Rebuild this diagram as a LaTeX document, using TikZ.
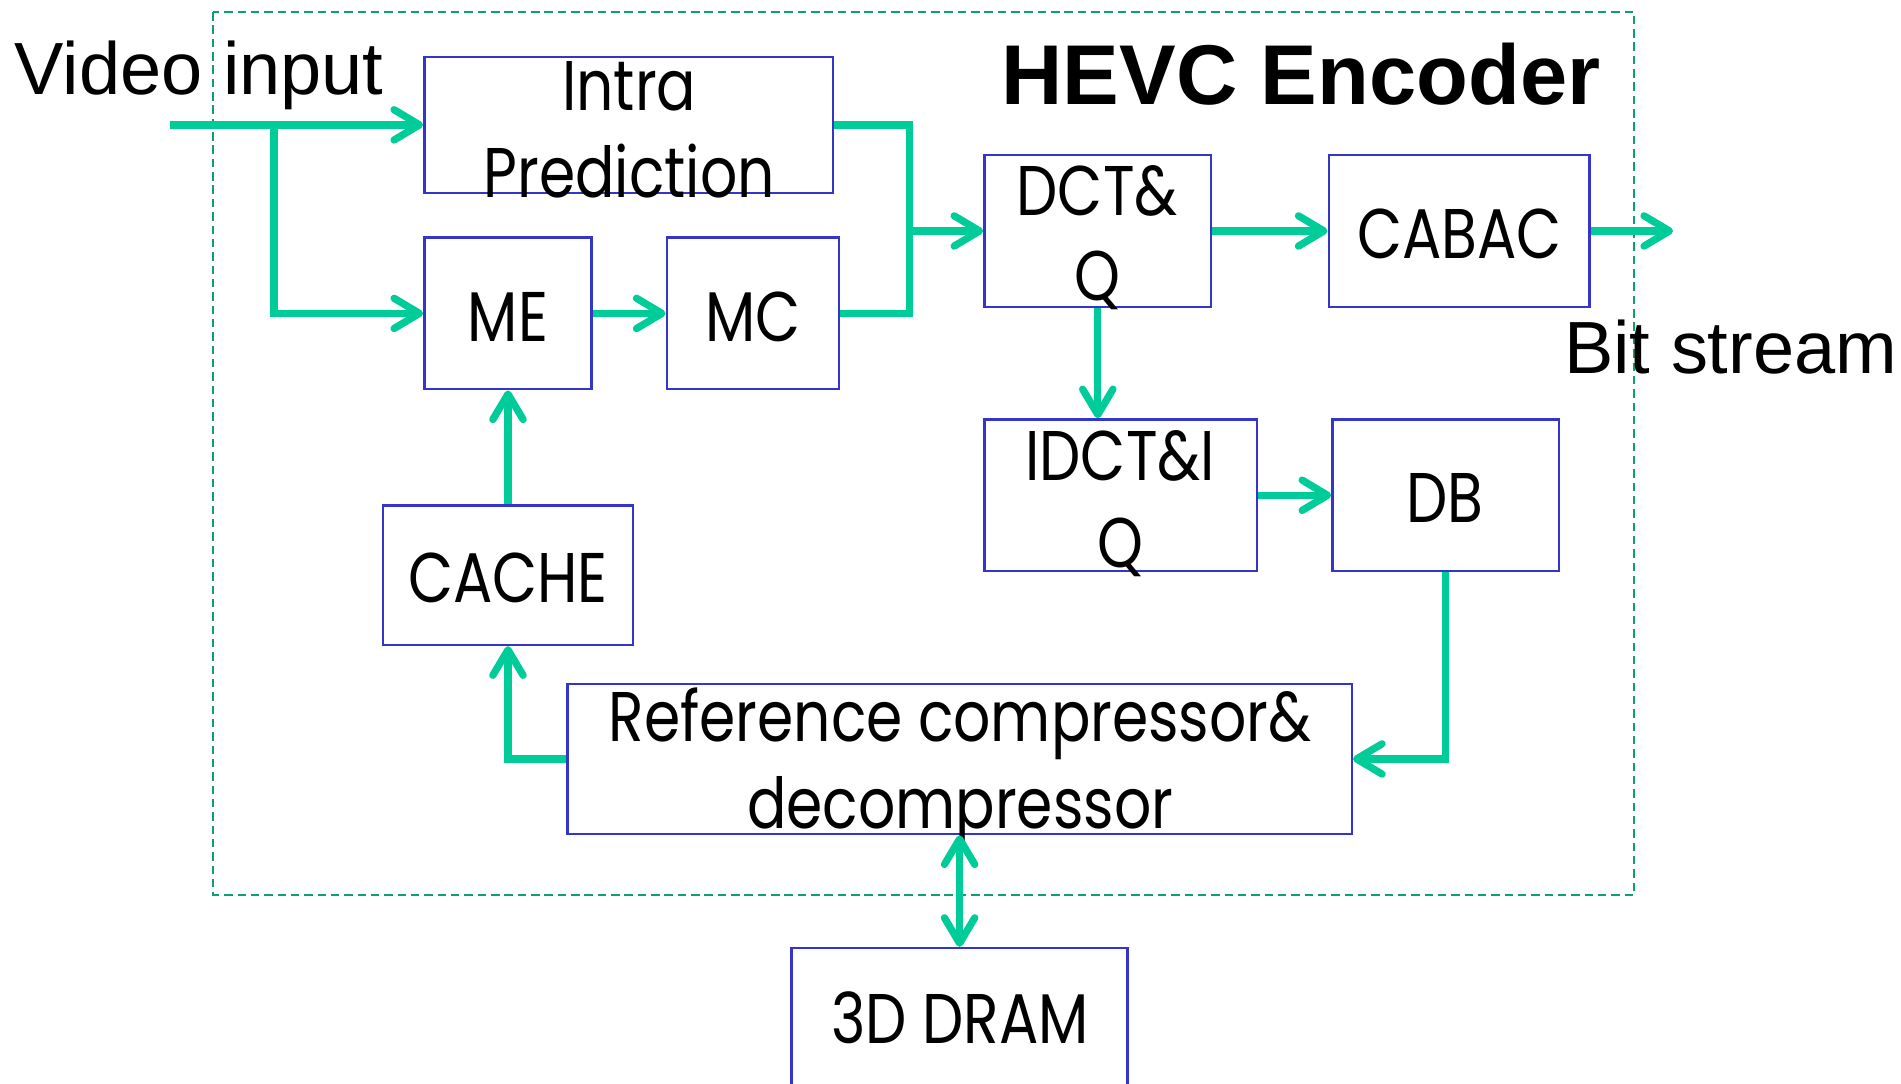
\documentclass[tikz,border=0pt]{standalone}
\usepackage{fontspec}
\setmainfont{Liberation Sans}
\newfontfamily\blockfont[FakeStretch=0.83]{Poppins}
\usetikzlibrary{arrows.meta}
\definecolor{agreen}{HTML}{00CC99}
\definecolor{bblue}{HTML}{3535CC}
\definecolor{dgreen}{HTML}{109E78}
\tikzset{
  blk/.style={draw=bblue, line width=2pt, rectangle, inner sep=0pt},
  btxt/.style={font=\blockfont\fontsize{58}{71}\selectfont, anchor=base, inner sep=0pt},
  conn/.style={draw=agreen, line width=6pt},
  barb/.style={},
  arr/.style={conn, -{Straight Barb[length=21pt, width=25pt, line cap=round, line join=round]}},
  darr/.style={conn, {Straight Barb[length=21pt, width=25pt, line cap=round, line join=round]}-{Straight Barb[length=21pt, width=25pt, line cap=round, line join=round]}},
  big/.style={font=\fontsize{61}{70}\selectfont, anchor=base west, inner sep=0pt},
}
\begin{document}
\begin{tikzpicture}[x=1pt,y=-1pt]
\useasboundingbox[fill=white] (0,0) rectangle (1568,894);
% encoder frame
\draw[dgreen, line width=1.5pt, dash pattern=on 7pt off 4pt] (176,10) rectangle (1348,738);
% blocks
\node[blk, minimum width=337pt, minimum height=112pt] (intra) at (518.5,103) {};
\node[blk, minimum width=138pt, minimum height=125pt] (me) at (419,258.5) {};
\node[blk, minimum width=142pt, minimum height=125pt] (mc) at (621,258.5) {};
\node[blk, minimum width=187pt, minimum height=125pt] (dct) at (905.5,190.5) {};
\node[blk, minimum width=215pt, minimum height=125pt] (cabac) at (1203.5,190.5) {};
\node[blk, minimum width=225pt, minimum height=125pt] (idct) at (924.5,408.5) {};
\node[blk, minimum width=187pt, minimum height=125pt] (db) at (1192.5,408.5) {};
\node[blk, minimum width=206pt, minimum height=115pt] (cache) at (419,474.5) {};
\node[blk, minimum width=647pt, minimum height=124pt] (ref) at (791.5,626) {};
\node[blk, minimum width=277pt, minimum height=130pt] (dram) at (791.5,847) {};
% block texts
\node[btxt] (t1) at (519,91) {Intra};
\node[btxt] (t2) at (519,163) {Prediction};
\node[btxt] (t3) at (419,282) {ME};
\node[btxt] (t4) at (621,282) {MC};
\node[btxt] (t5) at (905,178) {DCT\&};
\node[btxt] (t6) at (905,248) {Q};
\node[btxt] (t7) at (1204,213) {CABAC};
\node[btxt] (t8) at (924,396) {IDCT\&I};
\node[btxt] (t9) at (924,468) {Q};
\node[btxt] (t10) at (1192,431) {DB};
\node[btxt] (t11) at (419,497) {CACHE};
\node[btxt] (t12) at (792,612) {Reference compressor\&};
\node[btxt] (t13) at (792,683) {decompressor};
\node[btxt] (t14) at (792,861) {3D DRAM};
% labels
\node[big] (vin-l) at (12,78) {Video input};
\node[big] (bs-l) at (1290,308) {Bit stream};
\node[font=\bfseries\fontsize{70}{80}\selectfont, anchor=base west, inner sep=0pt] (title) at (826,86) {HEVC Encoder};
% connectors
\coordinate (vin) at (140,103);
\coordinate (split) at (226,103);
\coordinate (jx) at (750,190.5);
\coordinate (bout) at (1380,190.5);
\draw[arr] (vin) -- (intra.west);
\draw[arr] (split) |- (me.west);
\draw[arr] (me.east) -- (mc.west);
\draw[conn] (intra.east) -| (jx);
\draw[conn] (mc.east) -| (jx);
\draw[arr] (jx) -- (dct.west);
\draw[arr] (dct.east) -- (cabac.west);
\draw[arr] (cabac.east) -- (bout);
\draw[arr] (dct.south) -- (dct.south |- idct.north);
\draw[arr] (idct.east) -- (db.west);
\draw[arr] (db.south) |- (ref.east);
\draw[arr] (ref.west) -| (cache.south);
\draw[arr] (cache.north) -- (me.south);
\draw[darr] (ref.south) -- (dram.north);
\end{tikzpicture}
\end{document}
